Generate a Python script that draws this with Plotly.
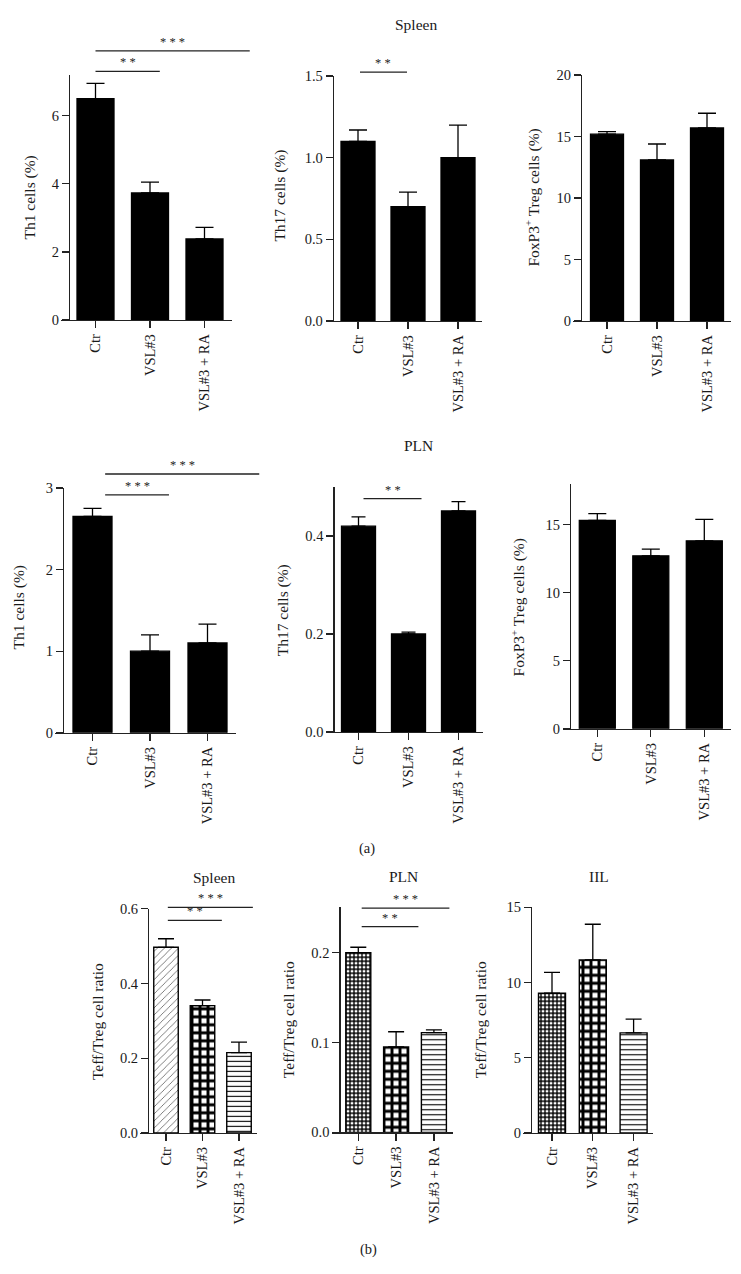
import plotly.graph_objects as go

W, H = 741, 1274
FONT = "Liberation Serif"

groups = ["Ctr", "VSL#3", "VSL#3 + RA"]

# ---- (a) Spleen ----
th1_spleen = [6.50, 3.73, 2.38]
th1_spleen_sem = [0.45, 0.32, 0.34]
th17_spleen = [1.10, 0.70, 1.00]
th17_spleen_sem = [0.07, 0.09, 0.20]
treg_spleen = [15.2, 13.1, 15.7]
treg_spleen_sem = [0.2, 1.3, 1.2]

# ---- (a) PLN ----
th1_pln = [2.65, 1.00, 1.10]
th1_pln_sem = [0.10, 0.20, 0.23]
th17_pln = [0.420, 0.200, 0.451]
th17_pln_sem = [0.019, 0.004, 0.019]
treg_pln = [15.3, 12.7, 13.8]
treg_pln_sem = [0.5, 0.5, 1.57]

# ---- (b) Teff/Treg ratio ----
ratio_spleen = [0.497, 0.341, 0.215]
ratio_spleen_sem = [0.023, 0.015, 0.028]
ratio_pln = [0.200, 0.095, 0.111]
ratio_pln_sem = [0.006, 0.017, 0.003]
ratio_iil = [9.29, 11.5, 6.65]
ratio_iil_sem = [1.38, 2.37, 0.92]

# significance brackets (x0, x1 in group index units, y in data units, label)
sig_th1_spleen = [(0, 1.18, 7.30, "* *"), (0, 2.83, 7.90, "* * *")]
sig_th17_spleen = [(0.04, 0.98, 1.524, "* *")]
sig_th1_pln = [(0.22, 1.33, 2.915, "* * *"), (0.22, 2.90, 3.17, "* * *")]
sig_th17_pln = [(0.10, 1.26, 0.476, "* *")]
sig_ratio_spleen = [(0.05, 2.38, 0.604, "* * *"), (0.05, 1.53, 0.569, "* *")]
sig_ratio_pln = [(0.09, 2.41, 0.2495, "* * *"), (0.09, 1.59, 0.229, "* *")]

pat_b1 = dict(shape=["/", "+", "-"], size=[5, 8, 5], solidity=[0.15, 0.6, 0.22],
              fgcolor=["#555", "black", "black"], bgcolor="white", fillmode="replace")
pat_b2 = dict(shape=["+", "+", "-"], size=[4, 8, 5], solidity=[0.55, 0.6, 0.22],
              fgcolor="black", bgcolor="white", fillmode="replace")

# panel geometry in pixels: x-axis start/end, y-axis x, first bar centre, spacing,
# bar width, y pixel of zero, y pixel of top, ymax, ticks
panels = [
    dict(v=th1_spleen, e=th1_spleen_sem, xl=61, xr=232, ya=69, c0=95.5, s=54.5, bw=37,
         yb=316, yt=68, ymax=7.19, tv=[0, 2, 4, 6], fmt="d", pat=None, sig=sig_th1_spleen,
         title="Th1 cells (%)", tx=30, ty=192, cap=9),
    dict(v=th17_spleen, e=th17_spleen_sem, xl=326, xr=482, ya=332.7, c0=358, s=50, bw=34,
         yb=317, yt=69, ymax=1.5, tv=[0, 0.5, 1.0, 1.5], fmt=".1f", pat=None, sig=sig_th17_spleen,
         title="Th17 cells (%)", tx=280, ty=190, cap=9),
    dict(v=treg_spleen, e=treg_spleen_sem, xl=573, xr=731, ya=581, c0=607, s=50, bw=33,
         yb=317, yt=68, ymax=20, tv=[0, 5, 10, 15, 20], fmt="d", pat=None, sig=[],
         title="FoxP3<sup>+</sup> Treg cells (%)", tx=533, ty=192, cap=9),
    dict(v=th1_pln, e=th1_pln_sem, xl=55, xr=236, ya=63, c0=92.5, s=57.5, bw=39,
         yb=734, yt=486, ymax=3, tv=[0, 1, 2, 3], fmt="d", pat=None, sig=sig_th1_pln,
         title="Th1 cells (%)", tx=19, ty=607, cap=9),
    dict(v=th17_pln, e=th17_pln_sem, xl=326, xr=483, ya=333.3, c0=358.5, s=50, bw=34,
         yb=733.3, yt=485, ymax=0.5, tv=[0, 0.2, 0.4], fmt=".1f", pat=None, sig=sig_th17_pln,
         title="Th17 cells (%)", tx=283, ty=610, cap=7),
    dict(v=treg_pln, e=treg_pln_sem, xl=562.7, xr=730.7, ya=570, c0=597.3, s=53.5, bw=36,
         yb=730, yt=481.7, ymax=18, tv=[0, 5, 10, 15], fmt="d", pat=None, sig=[],
         title="FoxP3<sup>+</sup> Treg cells (%)", tx=518, ty=607, cap=9),
    dict(v=ratio_spleen, e=ratio_spleen_sem, xl=140, xr=257, ya=148, c0=166, s=36.5, bw=24.5,
         yb=1139.3, yt=912.3, ymax=0.6, tv=[0, 0.2, 0.4, 0.6], fmt=".1f", pat=pat_b1,
         sig=sig_ratio_spleen, title="Teff/Treg cell ratio", tx=97, ty=1026, cap=8),
    dict(v=ratio_pln, e=ratio_pln_sem, xl=332, xr=453, ya=339.3, c0=358.3, s=37.8, bw=25,
         yb=1138.7, yt=910.7, ymax=0.2505, tv=[0, 0.1, 0.2], fmt=".1f", pat=pat_b2,
         sig=sig_ratio_pln, title="Teff/Treg cell ratio", tx=288, ty=1025, cap=8),
    dict(v=ratio_iil, e=ratio_iil_sem, xl=523, xr=653, ya=531, c0=552, s=40.8, bw=27,
         yb=1139.3, yt=910.7, ymax=15, tv=[0, 5, 10, 15], fmt="d", pat=pat_b2, sig=[],
         title="Teff/Treg cell ratio", tx=480, ty=1025, cap=8),
]

fig = go.Figure()
layout = dict(width=W, height=H, margin=dict(l=0, r=0, t=0, b=0),
              paper_bgcolor="white", plot_bgcolor="white", showlegend=False,
              font=dict(family=FONT, size=14, color="#1a1a1a"))
annotations = []
shapes = []

def xpaper(p, x):
    return (p["c0"] + x * p["s"]) / W

def ypaper(p, y):
    py = p["yb"] - y * (p["yb"] - p["yt"]) / p["ymax"]
    return 1 - py / H

for i, p in enumerate(panels, start=1):
    xa = "x" if i == 1 else f"x{i}"
    ya = "y" if i == 1 else f"y{i}"
    xr0 = (p["xl"] - p["c0"]) / p["s"]
    xr1 = (p["xr"] - p["c0"]) / p["s"]
    marker = dict(color="black", line=dict(color="black", width=1.3))
    if p["pat"] is not None:
        marker = dict(color="white", line=dict(color="black", width=1.4), pattern=p["pat"])
    fig.add_trace(go.Bar(
        x=[0, 1, 2], y=p["v"], width=p["bw"] / p["s"], marker=marker,
        error_y=dict(type="data", symmetric=False, array=p["e"], arrayminus=[0, 0, 0],
                     color="black", thickness=1.3, width=p["cap"]),
        xaxis=xa, yaxis=ya, hoverinfo="skip"))
    layout["xaxis" if i == 1 else f"xaxis{i}"] = dict(
        domain=[p["xl"] / W, p["xr"] / W], range=[xr0, xr1], anchor=ya,
        showline=True, linecolor="#222", linewidth=1.3, ticks="outside", ticklen=7,
        tickwidth=1.3, tickcolor="#222", tickvals=[0, 1, 2], ticktext=groups,
        tickangle=-90, showgrid=False, zeroline=False, fixedrange=True,
        tickfont=dict(family=FONT, size=14.5, color="#1a1a1a"))
    layout["yaxis" if i == 1 else f"yaxis{i}"] = dict(
        domain=[1 - p["yb"] / H, 1 - p["yt"] / H], range=[0, p["ymax"]],
        anchor="free", position=p["ya"] / W,
        showline=True, linecolor="#222", linewidth=1.3, ticks="outside", ticklen=7,
        tickwidth=1.3, tickcolor="#222", tickvals=p["tv"],
        tickformat=p["fmt"], showgrid=False, zeroline=False, fixedrange=True,
        tickfont=dict(family=FONT, size=14.5, color="#1a1a1a"))
    annotations.append(dict(x=p["tx"] / W, y=1 - p["ty"] / H, xref="paper", yref="paper",
                            text=p["title"], textangle=-90, showarrow=False,
                            font=dict(family=FONT, size=15.5, color="#1a1a1a"),
                            xanchor="center", yanchor="middle"))
    for (x0, x1, y, lab) in p["sig"]:
        shapes.append(dict(type="line", xref="paper", yref="paper",
                           x0=xpaper(p, x0), x1=xpaper(p, x1),
                           y0=ypaper(p, y), y1=ypaper(p, y),
                           line=dict(color="#222", width=1.3)))
        annotations.append(dict(x=(xpaper(p, x0) + xpaper(p, x1)) / 2, y=ypaper(p, y),
                                xref="paper", yref="paper", text=lab, showarrow=False,
                                xanchor="center", yanchor="bottom", yshift=0,
                                font=dict(family=FONT, size=12.5, color="#222")))

# section titles and panel letters
for (txt, x, y, sz) in [("Spleen", 416, 17, 15.5), ("PLN", 418, 443, 15.5),
                        ("Spleen", 214, 881, 15.5), ("PLN", 403, 880, 15.5),
                        ("IIL", 599, 880, 15.5),
                        ("(a)", 367, 851, 14.5), ("(b)", 368, 1257, 14.5)]:
    annotations.append(dict(x=x / W, y=1 - y / H, xref="paper", yref="paper", text=txt,
                            showarrow=False, xanchor="center", yanchor="middle",
                            font=dict(family=FONT, size=sz, color="#1a1a1a")))

layout["annotations"] = annotations
layout["shapes"] = shapes
fig.update_layout(**layout)
fig.write_html("out.html", config={"displayModeBar": False, "staticPlot": True},
               post_script="document.body.style.margin='0';document.body.style.padding='0';")
